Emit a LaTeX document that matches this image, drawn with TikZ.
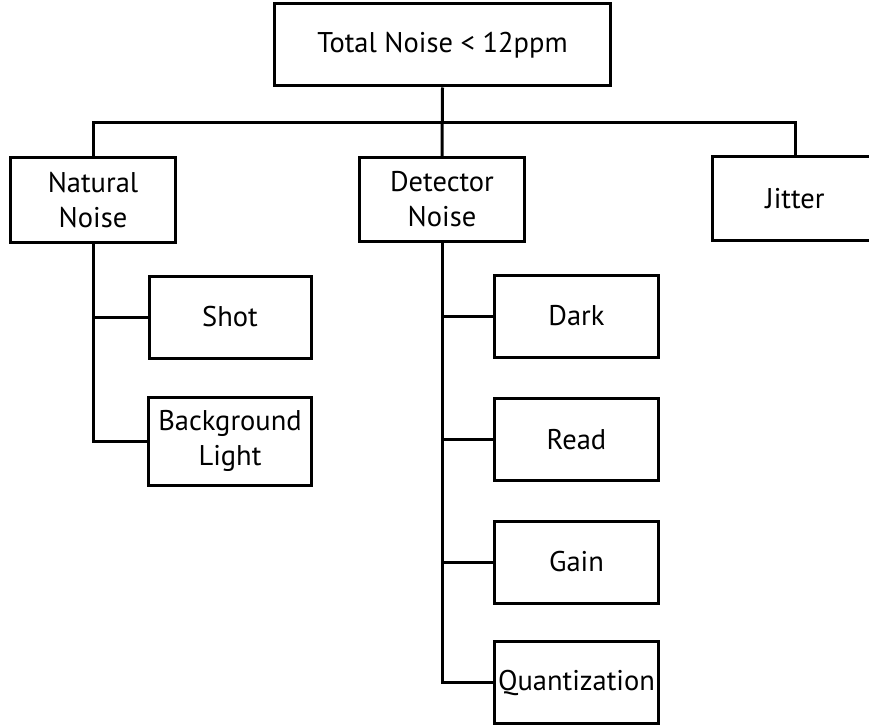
\documentclass[tikz,border=0pt]{standalone}
\usepackage{fontspec}
\setmainfont{PT Sans}
\begin{document}
\begin{tikzpicture}[x=1pt,y=-1pt,
  box/.style={draw=black,line width=3pt,fill=white,inner sep=0pt,align=center,
    font=\fontsize{28.5}{35}\selectfont,minimum height=82pt},
  link/.style={draw=black,line width=3pt}]
\useasboundingbox (0,0) rectangle (869,727);
\clip (0,0) rectangle (869,727);
\node[box,minimum width=336pt] (top) at (442.5,45) {Total Noise < 12ppm};
\node[box,minimum width=165pt,minimum height=84pt] (nat) at (93,200) {Natural\\Noise};
\node[box,minimum width=165pt,minimum height=84pt] (det) at (442,199.5) {Detector\\Noise};
\node[box,minimum width=165pt,minimum height=83pt] (jit) at (795,198.5) {Jitter};
\node[box,minimum width=162pt] (shot) at (230,317) {Shot};
\node[box,minimum width=163pt,minimum height=88pt] (bg) at (230,441) {Background\\Light};
\node[box,minimum width=164pt] (dark) at (576.5,316) {Dark};
\node[box,minimum width=164pt] (read) at (576.5,439.5) {Read};
\node[box,minimum width=164pt] (gain) at (576.5,562) {Gain};
\node[box,minimum width=164pt] (quant) at (576.5,682.5) {Quantization};
\coordinate (bus) at (0,123);
\draw[link] (top.south) -- (det.north);
\draw[link] (nat.north) |- (bus -| jit.north) -- (jit.north);
\draw[link] (nat.south) |- (bg.west);
\draw[link] (nat.south |- shot.west) -- (shot.west);
\draw[link] (det.south) |- (quant.west);
\draw[link] (det.south |- dark.west) -- (dark.west);
\draw[link] (det.south |- read.west) -- (read.west);
\draw[link] (det.south |- gain.west) -- (gain.west);
\end{tikzpicture}
\end{document}
